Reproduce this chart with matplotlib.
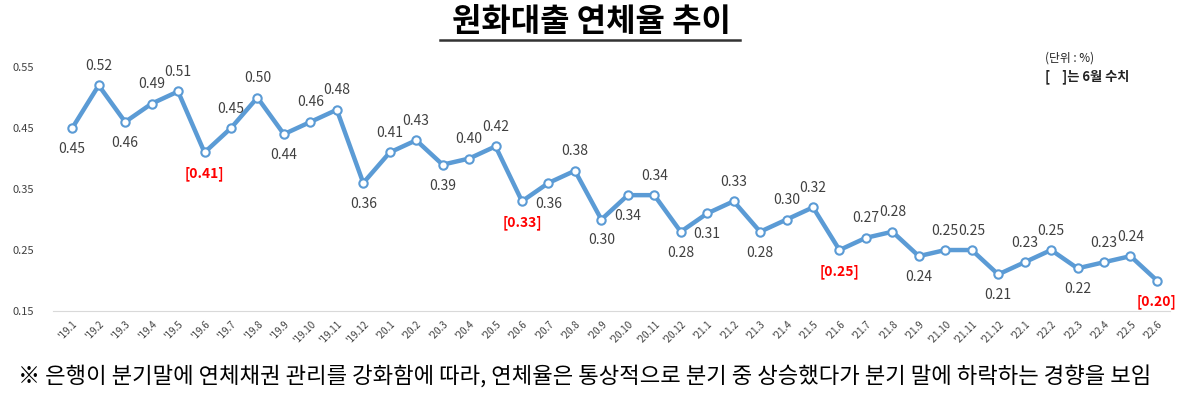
import matplotlib.pyplot as plt

plt.rcParams['font.family'] = ['Noto Sans CJK KR', 'DejaVu Sans']

# 월별 원화대출 연체율 (%)
months = ["'19.1", "'19.2", "'19.3", "'19.4", "'19.5", "'19.6", "'19.7", "'19.8", "'19.9", "'19.10", "'19.11", "'19.12",
          "'20.1", "'20.2", "'20.3", "'20.4", "'20.5", "'20.6", "'20.7", "'20.8", "'20.9", "'20.10", "'20.11", "'20.12",
          "'21.1", "'21.2", "'21.3", "'21.4", "'21.5", "'21.6", "'21.7", "'21.8", "'21.9", "'21.10", "'21.11", "'21.12",
          "'22.1", "'22.2", "'22.3", "'22.4", "'22.5", "'22.6"]
rates = [0.45, 0.52, 0.46, 0.49, 0.51, 0.41, 0.45, 0.50, 0.44, 0.46, 0.48, 0.36,
         0.41, 0.43, 0.39, 0.40, 0.42, 0.33, 0.36, 0.38, 0.30, 0.34, 0.34, 0.28,
         0.31, 0.33, 0.28, 0.30, 0.32, 0.25, 0.27, 0.28, 0.24, 0.25, 0.25, 0.21,
         0.23, 0.25, 0.22, 0.23, 0.24, 0.20]
# 라벨 위치: a = 위, b = 아래
label_pos = list('babaabaabaab'
                 'aabaabbabbab'
                 'babaabaabaab'
                 'aabaab')
yticks = [0.15, 0.25, 0.35, 0.45, 0.55]

fig = plt.figure(figsize=(11.82, 3.97), dpi=100)
ax = fig.add_axes([0.045, 0.2166, 0.945, 0.6144])

x = list(range(len(months)))
ax.plot(x, rates, color='#5B9BD5', linewidth=3.2, marker='o', markersize=6,
        markerfacecolor='white', markeredgecolor='#5B9BD5', markeredgewidth=1.5,
        clip_on=False, zorder=3)

for i, (v, p) in enumerate(zip(rates, label_pos)):
    june = months[i].endswith('.6')
    txt = f'[{v:.2f}]' if june else f'{v:.2f}'
    off = 9 if p == 'a' else -10
    ax.annotate(txt, (i, v), xytext=(0, off), textcoords='offset points',
                ha='center', va='bottom' if p == 'a' else 'top',
                fontsize=10, color='#FF0000' if june else '#404040',
                fontweight='bold' if june else 'normal')

ax.set_xlim(-0.72, 41.5)
ax.set_ylim(0.15, 0.55)
ax.set_yticks(yticks)
ax.set_yticklabels([f'{t:.2f}' for t in yticks], fontsize=8, color='#404040')
ax.set_xticks(x)
ax.set_xticklabels(months, rotation=45, fontsize=7, color='#404040',
                   ha='right', rotation_mode='anchor')
ax.tick_params(axis='both', length=0, pad=6)
ax.tick_params(axis='y', pad=14)
for s in ['top', 'right', 'left']:
    ax.spines[s].set_visible(False)
ax.spines['bottom'].set_color('#D9D9D9')

fig.text(0.5, 0.945, '원화대출 연체율 추이', ha='center', va='center',
         fontsize=23, fontweight='bold', color='black')
fig.add_artist(plt.Line2D([0.372, 0.626], [0.898, 0.898], color='#333333', linewidth=1.8))

fig.text(0.884, 0.853, '(단위 : %)', fontsize=8.5, color='#222222', va='center')
fig.text(0.884, 0.808, '[    ]는 6월 수치', fontsize=9.5, fontweight='bold', color='#222222', va='center')

fig.text(0.015, 0.05, '※ 은행이 분기말에 연체채권 관리를 강화함에 따라, 연체율은 통상적으로 분기 중 상승했다가 분기 말에 하락하는 경향을 보임',
         fontsize=16, color='black', va='center')

fig.savefig('out.png', dpi=100)
